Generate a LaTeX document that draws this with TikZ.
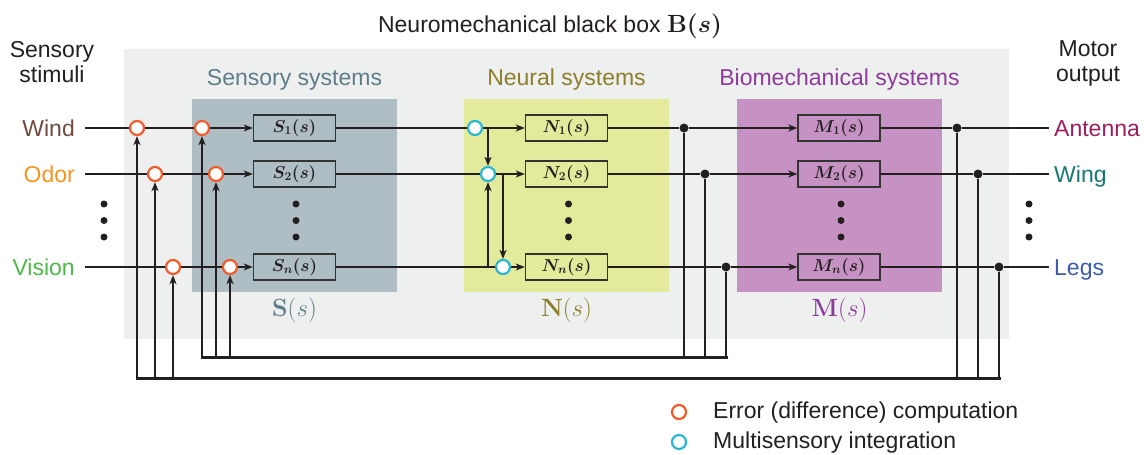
\documentclass[tikz,border=0pt]{standalone}
\usepackage[no-math]{fontspec}
\setmainfont{Liberation Sans}
\usepackage{bm}
\usetikzlibrary{arrows.meta}
\definecolor{ink}{HTML}{231F20}
\definecolor{bggray}{HTML}{EEF0EF}
\definecolor{sensbox}{HTML}{AFBDC4}
\definecolor{neurbox}{HTML}{E3EA9B}
\definecolor{mechbox}{HTML}{C692C3}
\definecolor{senstxt}{HTML}{5F7C89}
\definecolor{neurtxt}{HTML}{8C7E2B}
\definecolor{mechtxt}{HTML}{8E3B9B}
\definecolor{windc}{HTML}{6E4B3C}
\definecolor{odorc}{HTML}{F7941D}
\definecolor{visionc}{HTML}{4DB848}
\definecolor{antc}{HTML}{9B1F5E}
\definecolor{wingc}{HTML}{167873}
\definecolor{legsc}{HTML}{3C5BA8}
\definecolor{errc}{HTML}{F15A29}
\definecolor{intc}{HTML}{29B6D1}
\definecolor{blkline}{HTML}{333333}
\begin{document}
\begin{tikzpicture}[x=1pt,y=-1pt,
  font=\fontsize{23}{27}\selectfont,
  every node/.style={text=ink},
  wire/.style={line width=1.6pt, draw=ink},
  arr/.style={wire, -{Stealth[length=9pt,width=7pt,inset=2.5pt]}},
  bus/.style={line width=3pt, draw=ink, line cap=rect},
  blk/.style={draw=blkline, line width=1.4pt, minimum width=82pt, minimum height=26pt, inner sep=0pt, font=\fontsize{17.5}{20}\selectfont},
  errnode/.style={circle, draw=errc, line width=2.2pt, fill=white, minimum size=14pt, inner sep=0pt},
  intnode/.style={circle, draw=intc, line width=2.2pt, fill=white, minimum size=14pt, inner sep=0pt},
  junc/.style={circle, fill=ink, minimum size=9pt, inner sep=0pt},
  vdot/.style={circle, fill=ink, minimum size=7pt, inner sep=0pt},
  lab/.style={inner sep=0pt}
]
\useasboundingbox (0,0) rectangle (1144,455);

% backgrounds
\fill[bggray] (124,49) rectangle (1009,339);
\fill[sensbox] (192,99) rectangle (397,292);
\fill[neurbox] (464,99) rectangle (669,292);
\fill[mechbox] (737,99) rectangle (942,292);

% titles
\node[lab, anchor=base] (title) at (550,32) {Neuromechanical black box $\bm{\mathbf{B}(s)}$};
\node[lab, anchor=base] (stim1) at (52,57) {Sensory};
\node[lab, anchor=base] (stim2) at (52,82) {stimuli};
\node[lab, anchor=base] (mot1) at (1088,56) {Motor};
\node[lab, anchor=base] (mot2) at (1088,81) {output};
\node[lab, anchor=base, text=senstxt] (tsens) at (294.5,85) {Sensory systems};
\node[lab, anchor=base, text=neurtxt] (tneur) at (566.5,85) {Neural systems};
\node[lab, anchor=base, text=mechtxt] (tmech) at (839.5,85) {Biomechanical systems};
\node[lab, anchor=base, text=senstxt] (lS) at (294.5,316) {$\mathbf{S}(s)$};
\node[lab, anchor=base, text=neurtxt] (lN) at (566.5,316) {$\mathbf{N}(s)$};
\node[lab, anchor=base, text=mechtxt] (lM) at (839.5,316) {$\mathbf{M}(s)$};

% row labels
\node[lab, anchor=base east, text=windc] (lwind) at (75,136.5) {Wind};
\node[lab, anchor=base east, text=odorc] (lodor) at (75,182.5) {Odor};
\node[lab, anchor=base east, text=visionc] (lvis) at (75,275.5) {Vision};
\node[lab, anchor=base west, text=antc] (lant) at (1054,136.5) {Antenna};
\node[lab, anchor=base west, text=wingc] (lwing) at (1054,182.5) {Wing};
\node[lab, anchor=base west, text=legsc] (llegs) at (1054,275.5) {Legs};

% vertical ellipses
\foreach \x/\n in {104/a,296/b,568.5/c,841/d,1029/e}{
  \node[vdot] (v\n1) at (\x,204) {};
  \node[vdot] (v\n2) at (\x,220.5) {};
  \node[vdot] (v\n3) at (\x,237) {};
}

% blocks
\node[blk] (S1) at (294.5,128) {$\bm{S_1(s)}$};
\node[blk] (S2) at (294.5,174) {$\bm{S_2(s)}$};
\node[blk] (S3) at (294.5,267) {$\bm{S_n(s)}$};
\node[blk] (N1) at (566.5,128) {$\bm{N_1(s)}$};
\node[blk] (N2) at (566.5,174) {$\bm{N_2(s)}$};
\node[blk] (N3) at (566.5,267) {$\bm{N_n(s)}$};
\node[blk] (M1) at (839,128) {$\bm{M_1(s)}$};
\node[blk] (M2) at (839,174) {$\bm{M_2(s)}$};
\node[blk] (M3) at (839,267) {$\bm{M_n(s)}$};

% error circles
\node[errnode] (e11) at (137,128) {};
\node[errnode] (e12) at (155,174) {};
\node[errnode] (e13) at (173,267) {};
\node[errnode] (e21) at (202,128) {};
\node[errnode] (e22) at (216,174) {};
\node[errnode] (e23) at (230,267) {};
% integration circles
\node[intnode] (c1) at (475,128) {};
\node[intnode] (c2) at (488,174) {};
\node[intnode] (c3) at (503,267) {};
% junctions
\node[junc] (d1) at (684,128) {};
\node[junc] (d2) at (705,174) {};
\node[junc] (d3) at (726,267) {};
\node[junc] (o1) at (957,128) {};
\node[junc] (o2) at (978,174) {};
\node[junc] (o3) at (999,267) {};

% free ends
\coordinate (in1) at (85,128);
\coordinate (in2) at (85,174);
\coordinate (in3) at (85,267);
\coordinate (out1) at (1049,128);
\coordinate (out2) at (1049,174);
\coordinate (out3) at (1049,267);
\coordinate (j1) at (488,128);
\coordinate (j2) at (503,174);
\coordinate (j3) at (488,267);
\foreach \x/\n in {202/1,216/2,230/3,684/4,705/5,726/6}{\coordinate (ib\n) at (\x,357);}
\foreach \x/\n in {137/1,155/2,173/3,957/4,978/5,999/6}{\coordinate (ob\n) at (\x,378);}

% rows
\draw[wire] (in1) -- (e11); \draw[wire] (e11) -- (e21); \draw[arr] (e21) -- (S1);
\draw[wire] (in2) -- (e12); \draw[wire] (e12) -- (e22); \draw[arr] (e22) -- (S2);
\draw[wire] (in3) -- (e13); \draw[wire] (e13) -- (e23); \draw[arr] (e23) -- (S3);
\draw[wire] (S1) -- (c1); \draw[arr] (c1) -- (N1);
\draw[wire] (S2) -- (c2); \draw[arr] (c2) -- (N2);
\draw[wire] (S3) -- (c3); \draw[arr] (c3) -- (N3);
\draw[arr] (j1) -- (c2);
\draw[arr] (j2) -- (c3);
\draw[arr] (j3) -- (c2);
\draw[wire] (N1) -- (d1); \draw[arr] (d1) -- (M1);
\draw[wire] (N2) -- (d2); \draw[arr] (d2) -- (M2);
\draw[wire] (N3) -- (d3); \draw[arr] (d3) -- (M3);
\draw[wire] (M1) -- (o1); \draw[wire] (o1) -- (out1);
\draw[wire] (M2) -- (o2); \draw[wire] (o2) -- (out2);
\draw[wire] (M3) -- (o3); \draw[wire] (o3) -- (out3);

% feedback
\draw[wire] (d1) -- (ib4); \draw[wire] (d2) -- (ib5); \draw[wire] (d3) -- (ib6);
\draw[arr] (ib1) -- (e21); \draw[arr] (ib2) -- (e22); \draw[arr] (ib3) -- (e23);
\draw[bus] (ib1) -- (ib6);
\draw[wire] (o1) -- (ob4); \draw[wire] (o2) -- (ob5); \draw[wire] (o3) -- (ob6);
\draw[arr] (ob1) -- (e11); \draw[arr] (ob2) -- (e12); \draw[arr] (ob3) -- (e13);
\draw[bus] (ob1) -- (ob6);

% legend
\node[errnode] (lege) at (679,412) {};
\node[intnode] (legi) at (679,442) {};
\node[lab, anchor=base west] (tlege) at (713,418) {Error (difference) computation};
\node[lab, anchor=base west] (tlegi) at (713,448) {Multisensory integration};
\end{tikzpicture}
\end{document}
